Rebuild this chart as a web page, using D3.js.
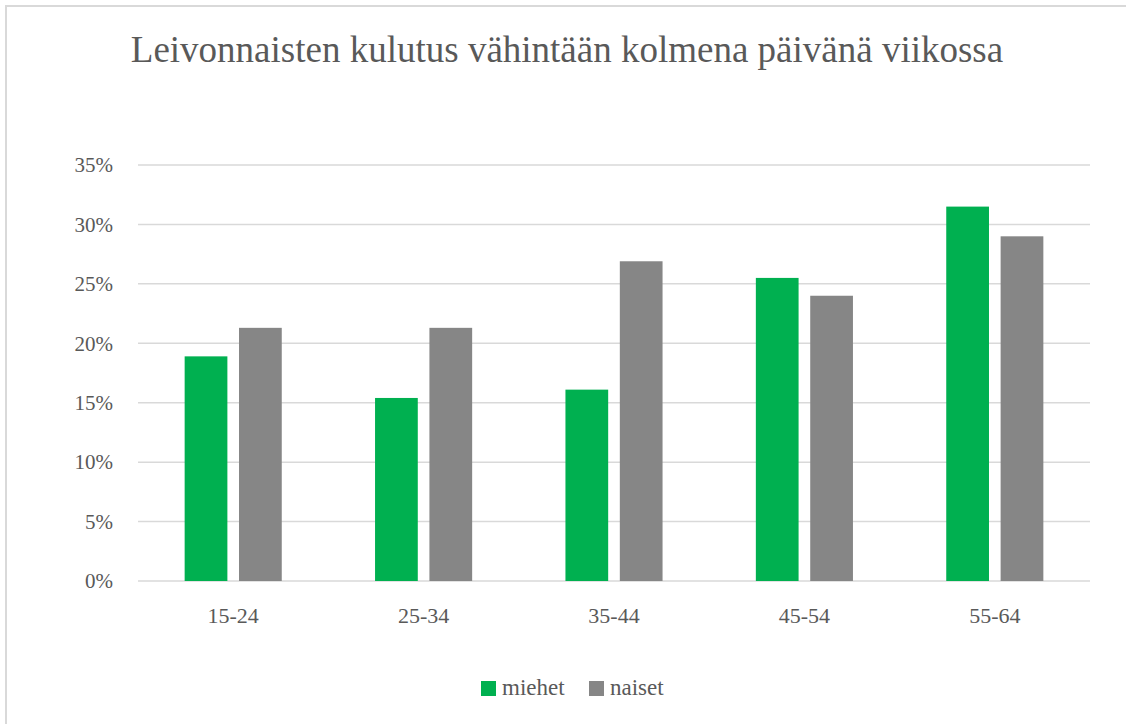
<!DOCTYPE html>
<html>
<head>
<meta charset="utf-8">
<script src="https://cdn.jsdelivr.net/npm/d3@7"></script>
<style>
    body { margin: 0; background: #fff; }
</style>
</head>
<body>
<div id="chart"></div>
<script>
const categories = ["15-24", "25-34", "35-44", "45-54", "55-64"];
const seriesNames = ["miehet", "naiset"];
const miehet = [18.9, 15.4, 16.1, 25.5, 31.5];
const naiset = [21.3, 21.3, 26.9, 24.0, 29.0];
const yTicks = [0, 5, 10, 15, 20, 25, 30, 35];
const colors = {miehet: "#00b050", naiset: "#868686"};

const FONT = "Liberation Serif";
const TEXT = "#595959";

const W = 1126, H = 724;
const margin = {top: 165, right: 36, bottom: 143, left: 138};
const width = W - margin.left - margin.right;
const height = H - margin.top - margin.bottom;

const svg = d3.select("#chart").append("svg")
    .attr("width", W)
    .attr("height", H)
    .attr("font-family", FONT);

// chart frame (only top and left edges are visible in the shot)
svg.append("rect")
    .attr("x", 6).attr("y", 6)
    .attr("width", W + 20).attr("height", H + 20)
    .attr("fill", "none")
    .attr("stroke", "#d9d9d9")
    .attr("stroke-width", 2);

svg.append("text")
    .attr("x", 567)
    .attr("y", 62)
    .attr("text-anchor", "middle")
    .attr("font-family", FONT)
    .attr("font-size", 37)
    .attr("fill", TEXT)
    .text("Leivonnaisten kulutus vähintään kolmena päivänä viikossa");

const g = svg.append("g")
    .attr("transform", "translate(" + margin.left + "," + margin.top + ")");

const x0 = d3.scaleBand().domain(categories).range([0, width])
    .paddingInner(0.49).paddingOuter(0.245);
const x1 = d3.scaleBand().domain(seriesNames).range([0, x0.bandwidth()])
    .paddingInner(0.214);
const y = d3.scaleLinear().domain([0, 35]).range([height, 0]);

// gridlines
g.append("g")
    .selectAll("line")
    .data(yTicks)
    .join("line")
    .attr("x1", 0).attr("x2", width)
    .attr("y1", d => y(d)).attr("y2", d => y(d))
    .attr("stroke", "#d9d9d9")
    .attr("stroke-width", 1.5);

// y tick labels
const yAxis = g.append("g")
    .call(d3.axisLeft(y).tickValues(yTicks).tickFormat(d => d + "%").tickSize(0).tickPadding(25))
    .attr("font-family", FONT)
    .attr("font-size", 21);
yAxis.select(".domain").remove();
yAxis.selectAll("text").attr("fill", TEXT);

// x labels
const xAxis = g.append("g")
    .attr("transform", "translate(0," + height + ")")
    .call(d3.axisBottom(x0).tickSize(0).tickPadding(26))
    .attr("font-family", FONT)
    .attr("font-size", 22);
xAxis.select(".domain").remove();
xAxis.selectAll("text").attr("fill", TEXT);

const rows = categories.map((c, i) => ({cat: c, miehet: miehet[i], naiset: naiset[i]}));

g.append("g")
    .selectAll("g")
    .data(rows)
    .join("g")
    .attr("transform", d => "translate(" + x0(d.cat) + ",0)")
    .selectAll("rect")
    .data(d => seriesNames.map(s => ({key: s, value: d[s]})))
    .join("rect")
    .attr("x", d => x1(d.key))
    .attr("width", x1.bandwidth())
    .attr("y", d => y(d.value))
    .attr("height", d => height - y(d.value))
    .attr("fill", d => colors[d.key]);

// legend
const legend = svg.append("g").attr("transform", "translate(481,681)");
const legendX = [0, 108];
seriesNames.forEach((s, i) => {
    const lg = legend.append("g").attr("transform", "translate(" + legendX[i] + ",0)");
    lg.append("rect").attr("width", 15).attr("height", 15).attr("fill", colors[s]);
    lg.append("text").attr("x", 21).attr("y", 14)
        .attr("font-family", FONT)
        .attr("font-size", 23)
        .attr("fill", TEXT)
        .text(s);
});
</script>
</body>
</html>
